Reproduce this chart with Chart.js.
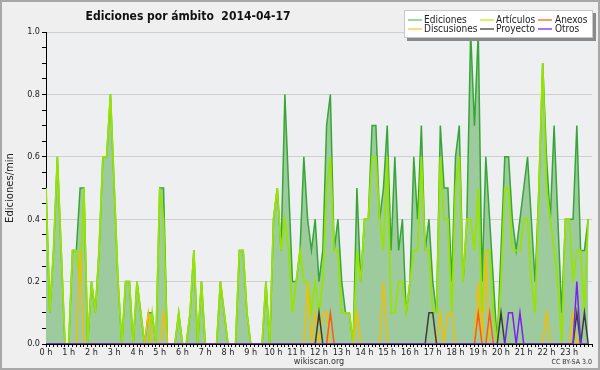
<!DOCTYPE html>
<html>
<head>
<meta charset="utf-8">
<script src="https://cdn.jsdelivr.net/npm/chart.js@4.4.1/dist/chart.umd.min.js"></script>
<style>
  html, body { margin: 0; padding: 0; background: #efefef; }
  #wrap { width: 600px; height: 370px; }
</style>
</head>
<body>
<div id="wrap"><canvas id="chart" width="600" height="370"></canvas></div>
<script>
// Ediciones por minuto, un valor por tramo de 10 min (144 tramos)
const Ediciones = [
  0.5, 0.1, 0.3, 0.6, 0.3, 0,   0, 0.3, 0.3, 0.5, 0.5, 0,
  0.2, 0.1, 0.3, 0.6, 0.6, 0.8, 0.5, 0.2, 0, 0.2, 0.2, 0,
  0.2, 0.1, 0, 0.1, 0.1, 0,     0.5, 0.5, 0, 0, 0, 0.1,
  0, 0, 0.1, 0.3, 0, 0.2,       0, 0, 0, 0, 0.2, 0.1,
  0, 0, 0, 0.3, 0.3, 0.1,       0, 0, 0, 0, 0.2, 0,
  0.4, 0.5, 0.3, 0.8, 0.5, 0.2, 0.2, 0.3, 0.6, 0.4, 0.3, 0.4,
  0.2, 0.3, 0.7, 0.8, 0.3, 0.4, 0.2, 0.1, 0.1, 0, 0.5, 0.2,
  0.4, 0.4, 0.7, 0.7, 0.4, 0.5, 0.7, 0.3, 0.6, 0.3, 0.4, 0.1,
  0.2, 0.6, 0.4, 0.7, 0.3, 0.4, 0.2, 0.1, 0.7, 0.5, 0.5, 0.2,
  0.6, 0.7, 0.2, 0.4, 1.0, 0.7, 1.0, 0.2, 0.6, 0.4, 0.2, 0,
  0.3, 0.6, 0.6, 0.4, 0.3, 0.4, 0.5, 0.6, 0.4, 0.2, 0.5, 0.9,
  0.6, 0.4, 0.7, 0.4, 0.1, 0.4, 0.4, 0.4, 0.7, 0.3, 0.3, 0.4
];
const Articulos = [
  0.5, 0.1, 0.3, 0.6, 0.3, 0,   0, 0.3, 0.3, 0.2, 0.5, 0,
  0.2, 0.1, 0.3, 0.6, 0.6, 0.8, 0.5, 0.2, 0, 0.2, 0.2, 0,
  0.2, 0.1, 0, 0, 0.1, 0,       0.5, 0.4, 0, 0, 0, 0.1,
  0, 0, 0.1, 0.3, 0, 0.2,       0, 0, 0, 0, 0.2, 0.1,
  0, 0, 0, 0.3, 0.3, 0.1,       0, 0, 0, 0, 0.2, 0,
  0.4, 0.5, 0.3, 0.4, 0.3, 0.1, 0.2, 0.3, 0.2, 0.2, 0.1, 0.2,
  0.1, 0.2, 0.5, 0.6, 0.3, 0.3, 0.1, 0.1, 0.1, 0, 0.3, 0.2,
  0.4, 0.4, 0.6, 0.6, 0.4, 0.3, 0.6, 0.1, 0.1, 0.2, 0.2, 0.1,
  0.2, 0.3, 0.3, 0.6, 0.3, 0.3, 0.1, 0.1, 0.6, 0.4, 0.4, 0.1,
  0.5, 0.6, 0.2, 0.4, 0.4, 0.3, 0.5, 0.1, 0.3, 0.3, 0.1, 0,
  0.2, 0.5, 0.5, 0.3, 0.3, 0.3, 0.4, 0.4, 0.2, 0.1, 0.5, 0.9,
  0.5, 0.4, 0.3, 0.2, 0, 0.4,   0.4, 0.2, 0.3, 0.3, 0.1, 0.4
];
const Discusiones = [
  0, 0, 0, 0, 0, 0,   0, 0, 0, 0.3, 0, 0,
  0, 0, 0, 0, 0, 0,   0, 0, 0, 0, 0, 0,
  0, 0, 0, 0.1, 0, 0, 0, 0.1, 0, 0, 0, 0,
  0, 0, 0, 0, 0, 0,   0, 0, 0, 0, 0, 0,
  0, 0, 0, 0, 0, 0,   0, 0, 0, 0, 0, 0,
  0, 0, 0, 0, 0, 0,   0, 0, 0, 0.2, 0, 0.1,
  0, 0.1, 0.1, 0, 0, 0, 0, 0, 0, 0, 0.1, 0,
  0, 0, 0, 0, 0, 0.2, 0, 0, 0, 0, 0, 0,
  0, 0, 0, 0, 0, 0,   0, 0, 0.1, 0, 0.1, 0.1,
  0, 0, 0, 0, 0, 0,   0.2, 0, 0.3, 0, 0, 0,
  0, 0, 0, 0, 0, 0,   0, 0, 0, 0, 0, 0,
  0.1, 0, 0, 0, 0, 0, 0, 0.1, 0, 0, 0, 0
];
const Proyecto = [
  0, 0, 0, 0, 0, 0, 0, 0, 0, 0, 0, 0,
  0, 0, 0, 0, 0, 0, 0, 0, 0, 0, 0, 0,
  0, 0, 0, 0, 0, 0, 0, 0, 0, 0, 0, 0,
  0, 0, 0, 0, 0, 0, 0, 0, 0, 0, 0, 0,
  0, 0, 0, 0, 0, 0, 0, 0, 0, 0, 0, 0,
  0, 0, 0, 0, 0, 0, 0, 0, 0, 0, 0, 0,
  0.1, 0, 0, 0, 0, 0, 0, 0, 0, 0, 0, 0,
  0, 0, 0, 0, 0, 0, 0, 0, 0, 0, 0, 0,
  0, 0, 0, 0, 0, 0.1, 0.1, 0, 0, 0, 0, 0,
  0, 0, 0, 0, 0, 0, 0, 0, 0, 0, 0, 0,
  0.1, 0, 0, 0, 0, 0, 0, 0, 0, 0, 0, 0,
  0, 0, 0, 0, 0, 0, 0, 0, 0.1, 0, 0.1, 0
];
const Anexos = [
  0, 0, 0, 0, 0, 0, 0, 0, 0, 0, 0, 0,
  0, 0, 0, 0, 0, 0, 0, 0, 0, 0, 0, 0,
  0, 0, 0, 0, 0, 0, 0, 0, 0, 0, 0, 0,
  0, 0, 0, 0, 0, 0, 0, 0, 0, 0, 0, 0,
  0, 0, 0, 0, 0, 0, 0, 0, 0, 0, 0, 0,
  0, 0, 0, 0, 0, 0, 0, 0, 0, 0, 0, 0,
  0, 0, 0, 0.1, 0, 0, 0, 0, 0, 0, 0, 0,
  0, 0, 0, 0, 0, 0, 0, 0, 0, 0, 0, 0,
  0, 0, 0, 0, 0, 0, 0, 0, 0, 0, 0, 0,
  0, 0, 0, 0, 0, 0, 0.1, 0, 0, 0.1, 0, 0,
  0, 0, 0, 0, 0, 0, 0, 0, 0, 0, 0, 0,
  0, 0, 0, 0, 0, 0, 0, 0, 0, 0, 0, 0
];
const Otros = [
  0, 0, 0, 0, 0, 0, 0, 0, 0, 0, 0, 0,
  0, 0, 0, 0, 0, 0, 0, 0, 0, 0, 0, 0,
  0, 0, 0, 0, 0, 0, 0, 0, 0, 0, 0, 0,
  0, 0, 0, 0, 0, 0, 0, 0, 0, 0, 0, 0,
  0, 0, 0, 0, 0, 0, 0, 0, 0, 0, 0, 0,
  0, 0, 0, 0, 0, 0, 0, 0, 0, 0, 0, 0,
  0, 0, 0, 0, 0, 0, 0, 0, 0, 0, 0, 0,
  0, 0, 0, 0, 0, 0, 0, 0, 0, 0, 0, 0,
  0, 0, 0, 0, 0, 0, 0, 0, 0, 0, 0, 0,
  0, 0, 0, 0, 0, 0, 0, 0, 0, 0, 0, 0,
  0, 0, 0.1, 0.1, 0, 0.1, 0, 0, 0, 0, 0, 0,
  0, 0, 0, 0, 0, 0, 0, 0, 0.2, 0, 0, 0
];

const titulo = 'Ediciones por ámbito  2014-04-17';
const FONT = "'DejaVu Sans Condensed', 'DejaVu Sans', sans-serif";

// posiciones de los tramos de 10 min en el eje x
const slots = Ediciones.map((_, i) => i);

// orden = orden de la leyenda (columnas de 2 filas)
const datasets = [
  { label: 'Ediciones',   data: Ediciones,   borderColor: '#36a636', backgroundColor: '#9ecb9e', fill: 'origin', order: 6, legendColor: '#7ccf7c' },
  { label: 'Discusiones', data: Discusiones, borderColor: '#f2bf00', fill: false, order: 4, legendColor: '#ffd23a' },
  { label: 'Artículos',   data: Articulos,   borderColor: '#96e400', fill: false, order: 5, borderWidth: 1.8, legendColor: '#c2f23a' },
  { label: 'Proyecto',    data: Proyecto,    borderColor: '#3c3c3c', fill: false, order: 2, legendColor: '#5a5a5a' },
  { label: 'Anexos',      data: Anexos,      borderColor: '#ff5a14', fill: false, order: 3, legendColor: '#ff7a3a' },
  { label: 'Otros',       data: Otros,       borderColor: '#7a22f0', fill: false, order: 1, legendColor: '#9040ff' }
];

function isMajor(v) {
  return Math.abs(v * 5 - Math.round(v * 5)) < 1e-6;
}

// fondo, titulo, leyenda en caja y creditos
const decor = {
  id: 'decor',
  beforeDraw(chart) {
    const { ctx, chartArea: a } = chart;
    ctx.save();
    ctx.fillStyle = '#efefef';
    ctx.fillRect(0, 0, chart.width, chart.height);
    ctx.fillStyle = '#eeeff1';
    ctx.fillRect(a.left, a.top, a.right - a.left, a.bottom - a.top);
    ctx.restore();
  },
  afterDraw(chart) {
    const ctx = chart.ctx;
    ctx.save();

    ctx.fillStyle = '#111';
    ctx.font = 'bold 12px ' + FONT;
    ctx.textAlign = 'center';
    ctx.textBaseline = 'middle';
    ctx.fillText(titulo, 188, 17);

    // caja de leyenda con sombra
    ctx.fillStyle = '#8a8a8a';
    ctx.fillRect(407, 13, 189, 28);
    ctx.fillStyle = '#ffffff';
    ctx.fillRect(404, 10, 189, 28);
    ctx.strokeStyle = '#c8c8c8';
    ctx.lineWidth = 1;
    ctx.strokeRect(404.5, 10.5, 188, 27);

    const colLine = [408, 480, 538];
    const colText = [424, 496, 555];
    const rowY = [20, 29];
    ctx.font = '10px ' + FONT;
    ctx.textAlign = 'left';
    chart.data.datasets.forEach((ds, k) => {
      const c = Math.floor(k / 2), r = k % 2;
      ctx.strokeStyle = ds.legendColor;
      ctx.lineWidth = 1.5;
      ctx.beginPath();
      ctx.moveTo(colLine[c], rowY[r]);
      ctx.lineTo(colLine[c] + 14, rowY[r]);
      ctx.stroke();
      ctx.fillStyle = '#222';
      ctx.fillText(ds.label, colText[c], rowY[r] + 0.5);
    });

    ctx.font = '7px ' + FONT;
    ctx.fillStyle = '#333';
    ctx.textAlign = 'right';
    ctx.fillText('CC BY-SA 3.0', 592, 362);

    // marco exterior
    ctx.strokeStyle = '#a8a8a8';
    ctx.lineWidth = 2;
    ctx.strokeRect(1, 1, chart.width - 2, chart.height - 2);
    ctx.restore();
  }
};

Chart.defaults.font.family = FONT;

new Chart(document.getElementById('chart'), {
  type: 'line',
  data: { labels: slots, datasets: datasets },
  options: {
    responsive: false,
    animation: false,
    layout: { padding: { top: 32, right: 8, left: 0, bottom: 0 } },
    elements: {
      point: { radius: 0 },
      line: { tension: 0, borderWidth: 1.5 }
    },
    plugins: {
      legend: { display: false },
      title: { display: false },
      tooltip: { enabled: false }
    },
    scales: {
      x: {
        type: 'linear',
        min: 0,
        max: 144,
        afterFit: function(scale) { scale.height = 26; },
        border: { color: '#000', width: 1 },
        grid: { drawOnChartArea: false, tickLength: 3, tickColor: '#000' },
        ticks: {
          stepSize: 1,
          autoSkip: false,
          maxTicksLimit: 200,
          maxRotation: 0,
          padding: 0,
          color: '#222',
          font: { size: 9 },
          callback: function(value) {
            return (value % 6 === 0 && value < 144) ? (value / 6) + ' h' : '';
          }
        },
        title: {
          display: true,
          text: 'wikiscan.org',
          color: '#333',
          font: { size: 9 },
          padding: { top: 0, bottom: 3 }
        }
      },
      y: {
        min: 0,
        max: 1,
        afterFit: function(scale) { scale.width = 46; },
        border: { color: '#000', width: 1 },
        grid: {
          color: function(c) { return c.tick && isMajor(c.tick.value) ? '#cfcfcf' : 'rgba(0,0,0,0)'; },
          tickColor: '#000',
          tickLength: 4
        },
        ticks: {
          stepSize: 0.05,
          maxTicksLimit: 30,
          padding: 2,
          color: '#222',
          font: { size: 9 },
          callback: function(value) {
            return isMajor(value) ? value.toFixed(1) : '';
          }
        },
        title: {
          display: true,
          text: 'Ediciones/min',
          color: '#222',
          font: { size: 10, family: "'DejaVu Sans', sans-serif" },
          padding: { top: 4, bottom: 0 }
        }
      }
    }
  },
  plugins: [decor]
});
</script>
</body>
</html>
